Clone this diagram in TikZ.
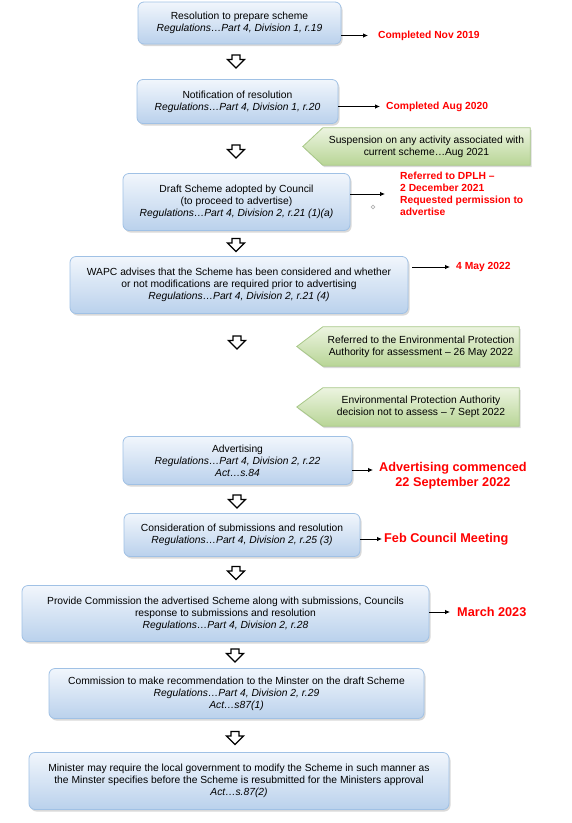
\documentclass[tikz,border=0pt]{standalone}
\usepackage{fontspec}
\setmainfont{Liberation Sans}
\usetikzlibrary{arrows.meta, shapes.arrows, shadows, backgrounds}

\definecolor{boxtop}{RGB}{241,246,252}
\definecolor{boxbot}{RGB}{186,209,236}
\definecolor{boxline}{RGB}{160,193,229}
\definecolor{greentop}{RGB}{236,244,224}
\definecolor{greenbot}{RGB}{184,213,150}
\definecolor{greenline}{RGB}{168,200,136}
\definecolor{datered}{RGB}{255,0,0}

\begin{document}
\begin{tikzpicture}[x=1pt, y=-1pt,
        every node/.style={font=\fontsize{10.3}{12}\selectfont},
        stage/.style={rectangle, rounded corners=6pt, draw=boxline, line width=0.8pt, top color=boxtop, bottom color=boxbot, drop shadow={shadow xshift=1.5pt, shadow yshift=-2pt, opacity=0.3}, align=center, inner sep=2pt},
        note/.style={rectangle, align=center, inner sep=0pt},
        flowdown/.style={single arrow, draw=black, line width=1.3pt, fill=white, rotate=-90, inner sep=3.3pt, single arrow head extend=4.5pt, minimum height=13pt},
        datelbl/.style={text=datered, font=\fontsize{10.3}{12}\selectfont\bfseries, anchor=west, inner sep=0pt, align=left},
        biglbl/.style={datelbl, font=\fontsize{12.7}{15}\selectfont\bfseries, align=center},
        tick/.style={-{Latex[length=5pt,width=4.5pt]}, line width=0.8pt}]
        \useasboundingbox (0,0) rectangle (572,823);
        \node[stage, minimum width=203pt, minimum height=42pt] (b1) at (239.5,23) {Resolution to prepare scheme\\ \textit{Regulations…Part 4, Division 1, r.19}};
        \node[stage, minimum width=201pt, minimum height=44pt] (b2) at (237.5,101.5) {Notification of resolution\\ \textit{Regulations…Part 4, Division 1, r.20}};
        \node[stage, minimum width=227pt, minimum height=57pt] (b3) at (236.5,202) {Draft Scheme adopted by Council\\ (to proceed to advertise)\\ \textit{Regulations…Part 4, Division 2, r.21 (1)(a)}};
        \node[stage, minimum width=338pt, minimum height=57pt] (b4) at (239,285) {WAPC advises that the Scheme has been considered and whether\\ or not modifications are required prior to advertising\\ \textit{Regulations…Part 4, Division 2, r.21 (4)}};
        \node[stage, minimum width=229pt, minimum height=48pt] (b5) at (237.5,460.5) {Advertising\\ \textit{Regulations…Part 4, Division 2, r.22}\\ \textit{Act…s.84}};
        \node[stage, minimum width=236pt, minimum height=43pt] (b6) at (242,535) {Consideration of submissions and resolution\\ \textit{Regulations…Part 4, Division 2, r.25 (3)}};
        \node[stage, minimum width=407pt, minimum height=56pt] (b7) at (225.5,613.5) {Provide Commission the advertised Scheme along with submissions, Councils\\ response to submissions and resolution\\ \textit{Regulations…Part 4, Division 2, r.28}};
        \node[stage, minimum width=375pt, minimum height=50pt] (b8) at (236.5,693.5) {Commission to make recommendation to the Minster on the draft Scheme\\ \textit{Regulations…Part 4, Division 2, r.29}\\ \textit{Act…s87(1)}};
        \node[stage, minimum width=420pt, minimum height=57pt] (b9) at (239,781) {Minister may require the local government to modify the Scheme in such manner as\\ the Minster specifies before the Scheme is resubmitted for the Ministers approval\\ \textit{Act…s.87(2)}};
        \node[flowdown] (dn1) at (236,59.5) {};
        \node[flowdown] (dn2) at (236,149.5) {};
        \node[flowdown] (dn3) at (236,243) {};
        \node[flowdown] (dn4) at (237,340.5) {};
        \node[flowdown] (dn5) at (237,499.5) {};
        \node[flowdown] (dn6) at (236,571) {};
        \node[flowdown] (dn7) at (235,653.5) {};
        \node[flowdown] (dn8) at (235,736) {};
        \node[note, minimum width=207pt, minimum height=37pt] (g1) at (426.5,146.5) {Suspension on any activity associated with\\ current scheme…Aug 2021};
        \node[note, minimum width=196pt, minimum height=39pt] (g2) at (421,346.5) {Referred to the Environmental Protection\\ Authority for assessment – 26 May 2022};
        \node[note, minimum width=196pt, minimum height=38pt] (g3) at (421,407) {Environmental Protection Authority\\ decision not to assess – 7 Sept 2022};
        \begin{scope}[on background layer]
        \foreach \g/\d in {g1/20,g2/26,g3/26}
            \draw[draw=greenline, line width=0.8pt, top color=greentop, bottom color=greenbot, drop shadow={shadow xshift=1.5pt, shadow yshift=-2pt, opacity=0.3}] (\g.north east) -- (\g.north west) -- ([xshift=-\d pt]\g.west) -- (\g.south west) -- (\g.south east) -- cycle;
        \end{scope}
        \node[datelbl] (r1) at (378,35.5) {Completed Nov 2019};
        \node[datelbl] (r2) at (386,106.5) {Completed Aug 2020};
        \node[datelbl] (r3) at (400,194) {Referred to DPLH –\\ 2 December 2021\\ Requested permission to\\ advertise};
        \node[datelbl] (r4) at (456,267) {4 May 2022};
        \node[biglbl] (r5) at (379,475.5) {Advertising commenced\\ 22 September 2022};
        \node[biglbl] (r6) at (384,539) {Feb Council Meeting};
        \node[biglbl] (r7) at (457,612) {March 2023};
        \node[circle, draw=gray!60, line width=0.6pt, inner sep=1.3pt] (dot) at (373,207) {};
        \coordinate (a5) at ([yshift=5.5pt]r5.west);
        \draw[tick] (b1.east |- r1.west) -- ([xshift=-10pt]r1.west);
        \draw[tick] (b2.east |- r2.west) -- ([xshift=-6pt]r2.west);
        \draw[tick] (b3.east |- r3.west) -- ([xshift=-15pt]r3.west);
        \draw[tick] ([xshift=4pt]b4.east |- r4.west) -- ([xshift=-6pt]r4.west);
        \draw[tick] (b5.east |- a5) -- ([xshift=-6pt]a5);
        \draw[tick] (b6.east |- r6.west) -- ([xshift=-2pt]r6.west);
        \draw[tick] (b7.east |- r7.west) -- ([xshift=-7pt]r7.west);
\end{tikzpicture}
\end{document}
